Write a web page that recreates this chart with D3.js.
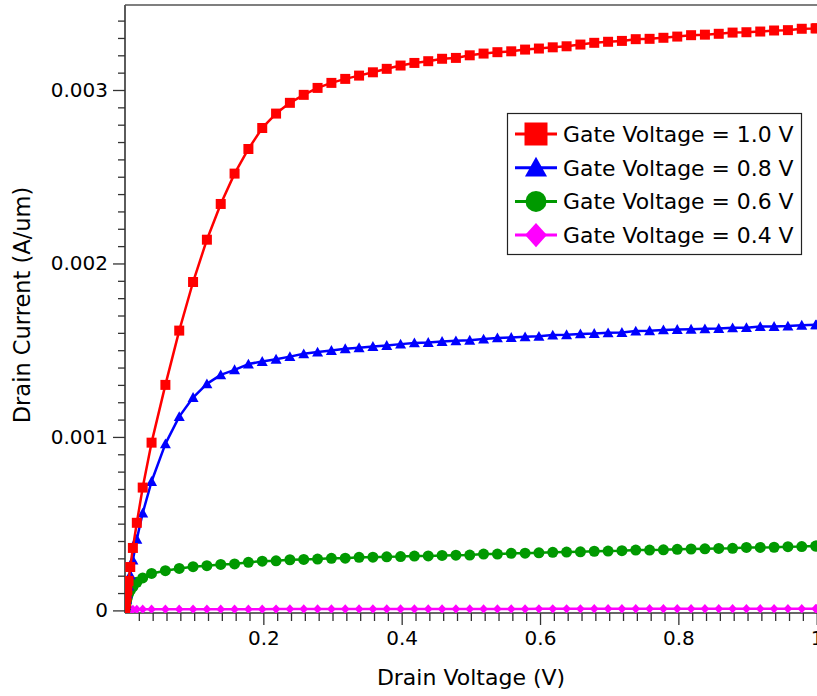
<!DOCTYPE html>
<html><head><meta charset="utf-8">
<script src="https://cdn.jsdelivr.net/npm/d3@7"></script>
<style>html,body{margin:0;padding:0;background:#fff;overflow:hidden}</style>
</head><body><svg id="c" width="817" height="696"></svg>
<script>
// ---- data ----
const drainVoltage = [0, 0.001, 0.0015, 0.0023, 0.0034, 0.0051, 0.0076, 0.0114, 0.0171, 0.0256, 0.0384,
  0.0584, 0.0784, 0.0984, 0.1184, 0.1384, 0.1584, 0.1784, 0.1984, 0.2184, 0.2384,
  0.2584, 0.2784, 0.2984, 0.3184, 0.3384, 0.3584, 0.3784, 0.3984, 0.4184, 0.4384,
  0.4584, 0.4784, 0.4984, 0.5184, 0.5384, 0.5584, 0.5784, 0.5984, 0.6184, 0.6384,
  0.6584, 0.6784, 0.6984, 0.7184, 0.7384, 0.7584, 0.7784, 0.7984, 0.8184, 0.8384,
  0.8584, 0.8784, 0.8984, 0.9184, 0.9384, 0.9584, 0.9784, 0.9984, 1.0];
const seriesNames = ["Gate Voltage = 1.0 V", "Gate Voltage = 0.8 V", "Gate Voltage = 0.6 V", "Gate Voltage = 0.4 V"];
const current10 = [0, 0.000035, 0.000052, 0.000079, 0.000117, 0.000170, 0.000250, 0.000360, 0.000505, 0.000708, 0.000967,
  0.001300, 0.001613, 0.001893, 0.002137, 0.002343, 0.002518, 0.002660, 0.002781, 0.002864, 0.002926,
  0.002972, 0.003012, 0.003041, 0.003064, 0.003083, 0.003102, 0.003122, 0.003141, 0.003156, 0.003166,
  0.003180, 0.003185, 0.003200, 0.003210, 0.003218, 0.003223, 0.003233, 0.003239, 0.003246, 0.003252,
  0.003262, 0.003272, 0.003278, 0.003283, 0.003293, 0.003295, 0.003301, 0.003308, 0.003316, 0.003319,
  0.003324, 0.003331, 0.003333, 0.003337, 0.003343, 0.003345, 0.003353, 0.003355, 0.003356];
const current08 = [0, 0.000028, 0.000042, 0.000064, 0.000095, 0.000140, 0.000205, 0.000290, 0.000410, 0.000561, 0.000743,
  0.000960, 0.001117, 0.001227, 0.001306, 0.001358, 0.001387, 0.001420, 0.001435, 0.001448, 0.001463,
  0.001479, 0.001489, 0.001498, 0.001508, 0.001514, 0.001521, 0.001527, 0.001535, 0.001542, 0.001544,
  0.001550, 0.001554, 0.001557, 0.001564, 0.001571, 0.001573, 0.001577, 0.001580, 0.001587, 0.001589,
  0.001594, 0.001596, 0.001600, 0.001602, 0.001610, 0.001612, 0.001617, 0.001619, 0.001621, 0.001623,
  0.001625, 0.001629, 0.001630, 0.001636, 0.001637, 0.001639, 0.001644, 0.001646, 0.001646];
const current06 = [0, 0.000025, 0.000037, 0.000055, 0.000075, 0.000095, 0.000115, 0.000135, 0.000162, 0.000187, 0.000213,
  0.000229, 0.000242, 0.000252, 0.000258, 0.000265, 0.000268, 0.000277, 0.000284, 0.000286, 0.000292,
  0.000294, 0.000296, 0.000300, 0.000301, 0.000306, 0.000307, 0.000309, 0.000310, 0.000313, 0.000314,
  0.000317, 0.000318, 0.000319, 0.000325, 0.000325, 0.000329, 0.000330, 0.000332, 0.000335, 0.000336,
  0.000338, 0.000341, 0.000342, 0.000344, 0.000348, 0.000348, 0.000349, 0.000352, 0.000354, 0.000355,
  0.000357, 0.000358, 0.000363, 0.000363, 0.000364, 0.000367, 0.000368, 0.000371, 0.000371];
const current04 = [0, 0.000001, 0.0000015, 0.000002, 0.000003, 0.000004, 0.000005, 0.0000055, 0.000006, 0.0000065, 0.000007,
  0.000007, 0.000007, 0.000007, 0.000007, 0.000007, 0.000007, 0.000007, 0.0000072, 0.0000074, 0.0000076,
  0.0000078, 0.000008, 0.000008, 0.000008, 0.000008, 0.000008, 0.0000082, 0.0000082, 0.0000082, 0.0000084,
  0.0000084, 0.0000085, 0.0000085, 0.0000086, 0.0000086, 0.0000087, 0.0000087, 0.0000088, 0.0000088, 0.0000089,
  0.0000089, 0.000009, 0.000009, 0.000009, 0.0000091, 0.0000091, 0.0000092, 0.0000092, 0.0000093, 0.0000093,
  0.0000094, 0.0000094, 0.0000095, 0.0000095, 0.0000096, 0.0000096, 0.0000097, 0.0000097, 0.0000097];
const xTickValues = [0.2, 0.4, 0.6, 0.8, 1];
const yTickValues = [0, 0.001, 0.002, 0.003];
const xTitle = "Drain Voltage (V)";
const yTitle = "Drain Current (A/um)";

// ---- styles ----
const colors = ["#ff0000", "#0000ff", "#009900", "#ff00ff"];
const shapes = ["square", "triangle", "circle", "diamond"];
const FONT = "'DejaVu Sans', Verdana, sans-serif";

function markerPath(type, s) {
  const h = s / 2;
  if (type === "square") return `M${-h},${-h}H${h}V${h}H${-h}Z`;
  if (type === "triangle") { const th = s * 0.9; return `M0,${-th*0.55}L${h},${th*0.45}L${-h},${th*0.45}Z`; }
  if (type === "diamond") { const w = h * 0.95, hh = h * 1.05; return `M0,${-hh}L${w},0L0,${hh}L${-w},0Z`; }
  return `M${h},0A${h},${h} 0 1,1 ${-h},0A${h},${h} 0 1,1 ${h},0Z`;
}

(function draw() {
const svg = d3.select("#c");
const W = 817, H = 696;
const pLeft = 125, pTop = 5, pBottom = 613, pRight = 816.7;
const x = d3.scaleLinear().domain([0, 1]).range([pLeft, pRight]);
const y = d3.scaleLinear().domain([-0.000015, 0.00349]).range([pBottom, pTop]);

svg.append("rect").attr("width", W).attr("height", H).attr("fill", "#fff");
svg.append("defs").append("clipPath").attr("id", "clip")
  .append("rect").attr("x", pLeft).attr("y", 0).attr("width", W - pLeft).attr("height", pBottom);

const axisColor = "#333";
const yMinor = d3.range(1, 35).map(i => i * 0.0001).filter(v => Math.abs(v * 1000 - Math.round(v * 1000)) > 1e-6);
const xMinor = d3.range(1, 50).map(i => i * 0.02).filter(v => Math.abs(v * 5 - Math.round(v * 5)) > 1e-6);

const gyMinor = svg.append("g").attr("transform", `translate(${pLeft},0)`)
  .call(d3.axisLeft(y).tickValues(yMinor).tickSize(7).tickFormat(""));
const gy = svg.append("g").attr("transform", `translate(${pLeft},0)`)
  .call(d3.axisLeft(y).tickValues(yTickValues).tickSize(12).tickPadding(5)
    .tickFormat(d => d === 0 ? "0" : d3.format(".3f")(d)));
const gxMinor = svg.append("g").attr("transform", `translate(0,${pBottom})`)
  .call(d3.axisBottom(x).tickValues(xMinor).tickSize(8).tickFormat(""));
const gx = svg.append("g").attr("transform", `translate(0,${pBottom})`)
  .call(d3.axisBottom(x).tickValues(xTickValues).tickSize(12).tickPadding(6)
    .tickFormat(d => d === 1 ? "1" : d3.format(".1f")(d)));
[gyMinor, gy, gxMinor, gx].forEach(g => {
  g.select(".domain").remove();
  g.selectAll(".tick line").attr("stroke", axisColor).attr("stroke-width", 1.3);
  g.selectAll(".tick text").attr("fill", "#000").attr("font-family", FONT).attr("font-size", 20);
});

svg.append("line").attr("x1", pLeft).attr("x2", pLeft).attr("y1", pTop).attr("y2", pBottom)
  .attr("stroke", axisColor).attr("stroke-width", 1.6);
svg.append("line").attr("x1", pLeft).attr("x2", W).attr("y1", pBottom).attr("y2", pBottom)
  .attr("stroke", axisColor).attr("stroke-width", 1.6);
svg.append("line").attr("x1", pLeft).attr("x2", W).attr("y1", pTop).attr("y2", pTop)
  .attr("stroke", "#555").attr("stroke-width", 1.6);

const allSeries = [current10, current08, current06, current04];
const plot = svg.append("g").attr("clip-path", "url(#clip)");
const line = d3.line().x((d, i) => x(drainVoltage[i])).y(d => y(d));
const markerSizes = [10, 11, 11, 9];
for (let k = allSeries.length - 1; k >= 0; k--) {
  const vals = allSeries[k];
  const g = plot.append("g");
  g.append("path").attr("d", line(vals)).attr("fill", "none")
    .attr("stroke", colors[k]).attr("stroke-width", 2.5).attr("stroke-linejoin", "round");
  g.selectAll("path.m").data(vals).join("path").attr("class", "m")
    .attr("transform", (d, i) => `translate(${x(drainVoltage[i])},${y(d)})`)
    .attr("d", markerPath(shapes[k], markerSizes[k]))
    .attr("fill", colors[k]);
}

svg.append("text").attr("x", 471).attr("y", 685).attr("text-anchor", "middle")
  .attr("font-family", FONT).attr("font-size", 22).attr("fill", "#000").text(xTitle);
svg.append("text").attr("transform", "translate(30,305) rotate(-90)").attr("text-anchor", "middle")
  .attr("font-family", FONT).attr("font-size", 22.5).attr("fill", "#000").text(yTitle);

const lg = svg.append("g");
lg.append("rect").attr("x", 507.5).attr("y", 113.5).attr("width", 294).attr("height", 141)
  .attr("fill", "#fff").attr("stroke", "#222").attr("stroke-width", 1.2);
const legendSizes = [23, 22, 21, 23];
seriesNames.forEach((name, k) => {
  const cy = 134 + k * 33.7;
  lg.append("line").attr("x1", 515).attr("x2", 557).attr("y1", cy).attr("y2", cy)
    .attr("stroke", colors[k]).attr("stroke-width", 3);
  lg.append("path").attr("transform", `translate(536,${cy})`)
    .attr("d", markerPath(shapes[k], legendSizes[k])).attr("fill", colors[k]);
  lg.append("text").attr("x", 563).attr("y", cy).attr("dy", "0.36em")
    .attr("font-family", FONT).attr("font-size", 21.9).attr("fill", "#000").text(name);
});
})();
</script>
</body></html>
